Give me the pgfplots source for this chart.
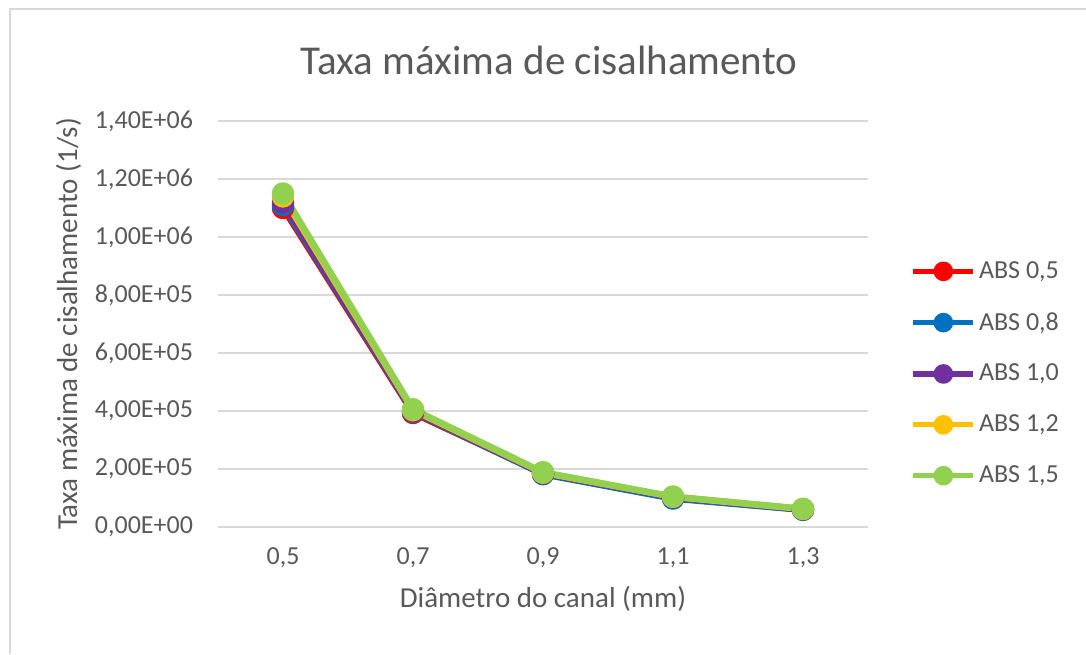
\documentclass[border=0pt]{standalone}
\usepackage{pgfplots}
\pgfplotsset{compat=1.18}
\usepackage{fontspec}
\setmainfont{Carlito}
\definecolor{txt}{HTML}{595959}
\definecolor{grd}{HTML}{D9D9D9}
\definecolor{cRed}{HTML}{FF0000}
\definecolor{cBlue}{HTML}{0070C0}
\definecolor{cPurple}{HTML}{7030A0}
\definecolor{cYellow}{HTML}{FFC000}
\definecolor{cGreen}{HTML}{92D050}
\begin{document}
\begin{tikzpicture}[x=0.5pt,y=0.5pt]
% page = 1086 x 654 px, 1px = 0.5pt, y measured from bottom
\useasboundingbox (0,0) rectangle (1086,654);
\draw[grd, line width=1pt] (10,0) -- (10,645) -- (1086,645);
\node[txt, font=\fontsize{20.5pt}{24pt}\selectfont] at (549,594) {Taxa máxima de cisalhamento};
\begin{axis}[
  at={(218pt*0.5,127pt*0.5)}, anchor=south west,
  scale only axis, width=325pt, height=203pt,
  xmin=-0.5, xmax=4.5, ymin=0, ymax=1.4e6,
  xtick={0,1,2,3,4},
  xticklabels={{0,5},{0,7},{0,9},{1,1},{1,3}},
  ytick={0,2e5,4e5,6e5,8e5,1e6,1.2e6,1.4e6},
  yticklabels={{0,00E+00},{2,00E+05},{4,00E+05},{6,00E+05},{8,00E+05},{1,00E+06},{1,20E+06},{1,40E+06}},
  scaled y ticks=false,
  ymajorgrids, major grid style={grd, line width=1pt},
  axis line style={draw=none},
  major tick length=0pt,
  tick label style={txt, font=\fontsize{13pt}{15pt}\selectfont},
  yticklabel style={xshift=-9pt},
  xticklabel style={yshift=-7pt},
  xlabel={Diâmetro do canal (mm)},
  ylabel={Taxa máxima de cisalhamento (1/s)},
  label style={txt, font=\fontsize{14.5pt}{17pt}\selectfont},
  xlabel style={yshift=-2pt},
  ylabel style={yshift=0pt},
  every axis plot/.append style={line width=3.2pt, mark=*, mark size=4pt, line join=round},
  legend style={at={(1.056,0.378)}, anchor=west, draw=none, fill=none,
    font=\fontsize{13pt}{15pt}\selectfont, text=txt,
    row sep=12.5pt, nodes={inner sep=1.5pt}},
  legend cell align=left,
  legend image code/.code={\draw[#1, line width=2.6pt, mark size=3.6pt, mark repeat=2, mark phase=2] plot coordinates {(0pt,0pt) (15pt,0pt) (30pt,0pt)};},
]
\addplot[cRed, mark options={fill=cRed}] coordinates {(0,1.10e6) (1,3.93e5) (2,1.84e5) (3,1.00e5) (4,6.0e4)};
\addlegendentry{ABS 0,5}
\addplot[cBlue, mark options={fill=cBlue}] coordinates {(0,1.11e6) (1,3.97e5) (2,1.82e5) (3,0.98e5) (4,5.9e4)};
\addlegendentry{ABS 0,8}
\addplot[cPurple, mark options={fill=cPurple}] coordinates {(0,1.12e6) (1,4.00e5) (2,1.85e5) (3,1.02e5) (4,6.1e4)};
\addlegendentry{ABS 1,0}
\addplot[cYellow, mark options={fill=cYellow}] coordinates {(0,1.14e6) (1,4.03e5) (2,1.87e5) (3,1.04e5) (4,6.2e4)};
\addlegendentry{ABS 1,2}
\addplot[cGreen, mark options={fill=cGreen}] coordinates {(0,1.15e6) (1,4.06e5) (2,1.89e5) (3,1.05e5) (4,6.3e4)};
\addlegendentry{ABS 1,5}
\end{axis}
\end{tikzpicture}
\end{document}
